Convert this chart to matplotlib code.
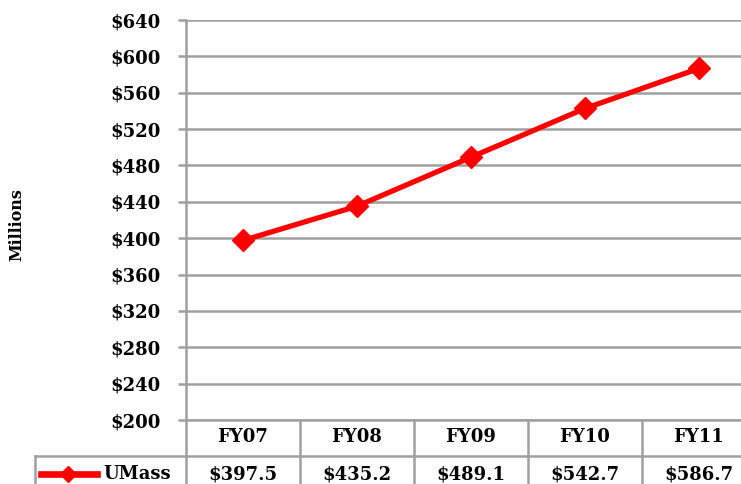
import matplotlib.pyplot as plt
from matplotlib.lines import Line2D

years = ["FY07", "FY08", "FY09", "FY10", "FY11"]
umass = [397.5, 435.2, 489.1, 542.7, 586.7]
yticks = list(range(200, 641, 40))

plt.rcParams['font.family'] = ['DejaVu Serif']
plt.rcParams['font.weight'] = 'bold'

W, H = 741, 484
fig = plt.figure(figsize=(W / 100, H / 100), dpi=100)
left, right, top, bottom = 186, 756, 20, 420
ax = fig.add_axes([left / W, 1 - bottom / H, (right - left) / W, (bottom - top) / H])

gray = '#a0a0a0'
red = '#ff0000'
x = list(range(len(years)))
ax.plot(x, umass, color=red, lw=3.8, marker='D', ms=11, zorder=3, clip_on=False)

ax.set_xlim(-0.5, len(years) - 0.5)
ax.set_ylim(200, 640)
ax.set_yticks(yticks)
ax.set_yticklabels(["$%d" % v for v in yticks], fontsize=13, fontweight='bold')
ax.set_xticks([])
ax.grid(axis='y', color=gray, lw=1.8)
for s in ['top', 'right', 'bottom']:
    ax.spines[s].set_visible(False)
ax.spines['left'].set_color(gray)
ax.spines['left'].set_linewidth(1.8)
ax.tick_params(axis='y', color=gray, width=1.8, length=6, pad=12)

fig.text(17 / W, 1 - 225 / H, "Millions", rotation=90, ha='center', va='center',
         fontsize=11.5, fontweight='bold')

# data table below the plot
def fx(px):
    return px / W

def fy(py):
    return 1 - py / H

row1, row2, row3 = 420, 456, 494
col_w = (right - left) / len(years)
edges = [left + i * col_w for i in range(len(years) + 1)]
lines = []
lines.append(Line2D([fx(left), fx(right)], [fy(row1), fy(row1)]))
lines.append(Line2D([fx(35), fx(right)], [fy(row2), fy(row2)]))
lines.append(Line2D([fx(35), fx(35)], [fy(row2), fy(row3)]))
for e in edges:
    lines.append(Line2D([fx(e), fx(e)], [fy(row1), fy(row3)]))
for ln in lines:
    ln.set_color(gray)
    ln.set_linewidth(1.8)
    fig.add_artist(ln)

for i, (yr, v) in enumerate(zip(years, umass)):
    cx = left + (i + 0.5) * col_w
    fig.text(fx(cx), fy(437), yr, ha='center', va='center', fontsize=13, fontweight='bold')
    fig.text(fx(cx), fy(474), "$%.1f" % v, ha='center', va='center', fontsize=13, fontweight='bold')

fig.add_artist(Line2D([fx(41), fx(97)], [fy(474), fy(474)], color=red, lw=4.8))
fig.add_artist(Line2D([fx(68)], [fy(474)], color=red, marker='D', ms=8))
fig.text(fx(103), fy(474), "UMass", ha='left', va='center', fontsize=13, fontweight='bold')

fig.savefig("out.png", dpi=100)
